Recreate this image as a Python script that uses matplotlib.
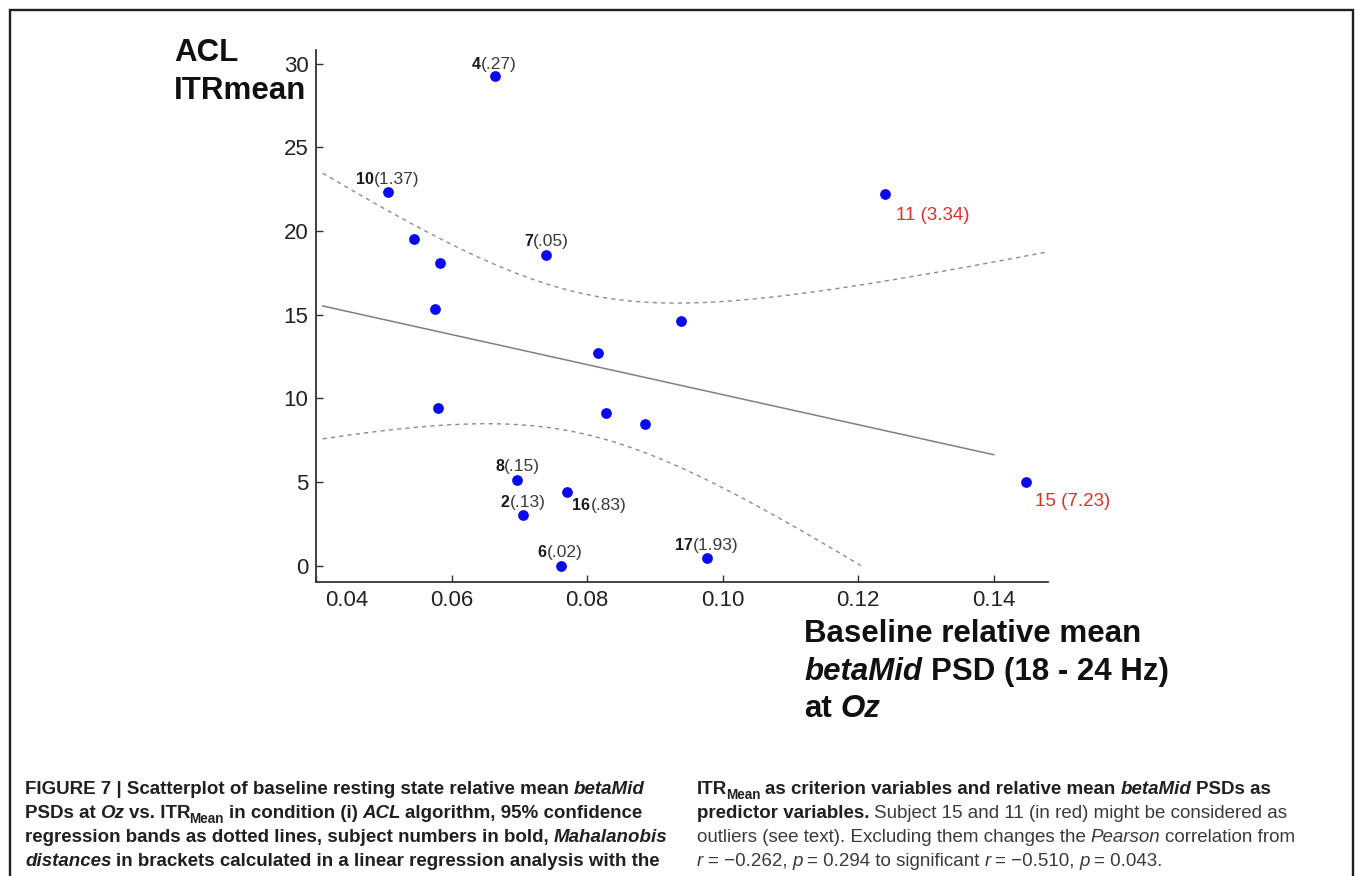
import matplotlib.pyplot as plt
import matplotlib.transforms as mtransforms
import numpy as np

# Data: baseline betaMid PSD at Oz vs. ACL ITRmean
psd = [0.0664, 0.0506, 0.0544, 0.0583, 0.0739, 0.1239, 0.0575, 0.0938, 0.0816,
       0.0580, 0.0828, 0.0886, 0.0697, 0.0771, 0.0706, 0.0761, 0.0977, 0.1448]
itr = [29.27, 22.36, 19.51, 18.07, 18.57, 22.20, 15.33, 14.63, 12.73,
       9.41, 9.15, 8.45, 5.12, 4.41, 3.03, 0.00, 0.44, 4.98]
subject = ['4', '10', '', '', '7', '11', '', '', '',
           '', '', '', '8', '16', '2', '6', '17', '15']
mahal = ['.27', '1.37', '', '', '.05', '3.34', '', '', '',
         '', '', '', '.15', '.83', '.13', '.02', '1.93', '7.23']
outliers = ['11', '15']

xticks = [0.04, 0.06, 0.08, 0.10, 0.12, 0.14]
yticks = [0, 5, 10, 15, 20, 25, 30]

# label offsets in pixels (dx, dy) from the point
offsets = {'4': (-14, 7), '10': (-14, 8), '7': (-13, 9), '8': (-13, 9), '2': (-14, 8),
           '16': (23, -18), '6': (-14, 9), '17': (-14, 8), '11': (11, -26), '15': (9, -24)}

W, H = 1355, 876
fig = plt.figure(figsize=(W / 100, H / 100), dpi=100)
plot_font = ['Liberation Sans', 'DejaVu Sans']
cap_font = ['Liberation Sans Narrow', 'Liberation Sans', 'DejaVu Sans']
plt.rcParams['font.family'] = plot_font

ax = fig.add_axes([316 / W, 1 - 582 / H, (1048 - 316) / W, (582 - 50) / H])
ax.set_xlim(0.04, 0.148)
ax.set_ylim(-0.97, 30.82)
for s in ['top', 'right']:
    ax.spines[s].set_visible(False)
for s in ['left', 'bottom']:
    ax.spines[s].set_color('#333333')
    ax.spines[s].set_linewidth(1.3)
ax.set_xticks(xticks)
ax.set_xticklabels(['%.2f' % v for v in xticks])
ax.set_yticks(yticks)
ax.tick_params(direction='in', length=5, width=1, color='#333333',
               labelsize=16, labelcolor='#222222', pad=5.5)
# the 0.04 label sits to the right of the y axis in the original
lab0 = ax.get_xticklabels()[0]
lab0.set_transform(lab0.get_transform() + mtransforms.ScaledTranslation(0.31, 0, fig.dpi_scale_trans))

# regression line and 95% confidence bands
x = np.array(psd)
y = np.array(itr)
n = len(x)
slope, intercept = np.polyfit(x, y, 1)
resid = y - (intercept + slope * x)
s_err = np.sqrt(np.sum(resid ** 2) / (n - 2))
sxx = np.sum((x - x.mean()) ** 2)
t_val = 2.12  # t(0.975, df=16)

xl = np.linspace(0.041, 0.14, 200)
ax.plot(xl, intercept + slope * xl, color='#808080', lw=1.1)

xb = np.linspace(0.041, 0.151, 400)
yb = intercept + slope * xb
wb = t_val * s_err * np.sqrt(1 / n + (xb - x.mean()) ** 2 / sxx)
upper = yb + wb
lower = yb - wb
lower[lower < 0] = np.nan
ax.plot(xb, upper, color='#8c8c8c', lw=1.0, ls=(0, (3, 3)))
ax.plot(xb, lower, color='#8c8c8c', lw=1.0, ls=(0, (3, 3)))

ax.scatter(psd, itr, s=60, color='#0a0af0', zorder=3, linewidths=0)

for xi, yi, sj, md in zip(psd, itr, subject, mahal):
    if not sj:
        continue
    dx, dy = offsets[sj]
    if sj in outliers:
        ax.annotate('%s (%s)' % (sj, md), (xi, yi), xytext=(dx, dy), textcoords='offset pixels',
                    ha='left', va='baseline', fontsize=13.5, color='#d9342b')
    else:
        ax.annotate(sj, (xi, yi), xytext=(dx, dy), textcoords='offset pixels',
                    ha='right', va='baseline', fontsize=11.5, fontweight='bold', color='#1a1a1a')
        ax.annotate('(%s)' % md, (xi, yi), xytext=(dx, dy), textcoords='offset pixels',
                    ha='left', va='baseline', fontsize=12.5, color='#3a3a3a')

# overlay axes for figure-level text
cap = fig.add_axes([0, 0, 1, 1], zorder=5)
cap.set_xlim(0, 1)
cap.set_ylim(0, 1)
cap.axis('off')

STYLES = {'b': ('bold', 'normal'), 'bi': ('bold', 'italic'), 'r': ('normal', 'normal'),
          'i': ('normal', 'italic'), 'bs': ('bold', 'normal')}


def rich_line(x0, y0, parts, size, family, color='#231f20', rcolor=None, space=0.25):
    first = None
    prev = None
    prev_txt = ''
    for txt, code in parts:
        weight, style = STYLES[code]
        col = rcolor if (rcolor and weight == 'normal') else color
        fs = size * 0.72 if code == 'bs' else size
        dy = -size * 0.22 if code == 'bs' else 0
        gap = space * size if (prev_txt.endswith(' ') or txt.startswith(' ')) else 0
        if code == 'bs':
            gap = -0.8
        t = txt.strip()
        if first is None:
            first = cap.text(x0, y0, t, transform=cap.transAxes, fontsize=fs, fontweight=weight,
                             fontstyle=style, family=family, color=col, va='baseline', ha='left')
            prev = first
        else:
            prev = cap.annotate(t, xy=(1, 0), xycoords=(prev, first), xytext=(gap, dy),
                                textcoords='offset points', fontsize=fs, fontweight=weight,
                                fontstyle=style, family=family, color=col, va='bottom', ha='left')
        prev_txt = txt


# axis titles
cap.text(174 / W, 1 - 60.7 / H, 'ACL', transform=cap.transAxes, fontsize=22.5,
         fontweight='bold', color='#111111', va='baseline')
cap.text(174 / W, 1 - 99.3 / H, 'ITRmean', transform=cap.transAxes, fontsize=22.5,
         fontweight='bold', color='#111111', va='baseline')
rich_line(804 / W, 1 - 641.7 / H, [('Baseline relative mean', 'b')], 22.5, plot_font, '#111111')
rich_line(804 / W, 1 - 680 / H, [('betaMid', 'bi'), (' PSD (18 - 24 Hz)', 'b')], 22.5,
          plot_font, '#111111', space=0.278)
rich_line(804 / W, 1 - 716.7 / H, [('at ', 'b'), ('Oz', 'bi')], 22.5, plot_font, '#111111',
          space=0.278)

# caption
cap_left = [
    [('FIGURE 7 | Scatterplot of baseline resting state relative mean ', 'b'), ('betaMid', 'bi')],
    [('PSDs at ', 'b'), ('Oz', 'bi'), (' vs. ITR', 'b'), ('Mean', 'bs'),
     (' in condition (i) ', 'b'), ('ACL', 'bi'), (' algorithm, 95% confidence', 'b')],
    [('regression bands as dotted lines, subject numbers in bold, ', 'b'), ('Mahalanobis', 'bi')],
    [('distances', 'bi'), (' in brackets calculated in a linear regression analysis with the', 'b')],
]
cap_right = [
    [('ITR', 'b'), ('Mean', 'bs'), (' as criterion variables and relative mean ', 'b'),
     ('betaMid', 'bi'), (' PSDs as', 'b')],
    [('predictor variables.', 'b'), (' Subject 15 and 11 (in red) might be considered as', 'r')],
    [('outliers (see text). Excluding them changes the ', 'r'), ('Pearson', 'i'),
     (' correlation from', 'r')],
    [('r', 'i'), (' = \u22120.262, ', 'r'), ('p', 'i'), (' = 0.294 to significant ', 'r'),
     ('r', 'i'), (' = \u22120.510, ', 'r'), ('p', 'i'), (' = 0.043.', 'r')],
]
baselines = [794, 818, 842, 866]
for parts, yb_ in zip(cap_left, baselines):
    rich_line(25 / W, 1 - yb_ / H, parts, 13.5, cap_font)
for parts, yb_ in zip(cap_right, baselines):
    rich_line(697 / W, 1 - yb_ / H, parts, 13.5, cap_font, rcolor='#3a3a3a')

# outer frame (left, top, right)
frame_x = [9.5 / W, 9.5 / W, 1353 / W, 1353 / W]
frame_y = [0, 1 - 9.5 / H, 1 - 9.5 / H, 0]
cap.plot(frame_x, frame_y, color='#231f20', lw=1.7, transform=cap.transAxes, solid_joinstyle='miter')

fig.savefig('out.png', dpi=100)
